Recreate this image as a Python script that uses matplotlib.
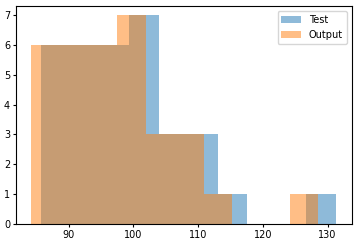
import matplotlib
matplotlib.use("Agg")
from matplotlib import pyplot as plt

# raw samples read back from the histogram bars
test = [85.7, 87, 88, 88.5, 89, 90,
        91, 92, 92.5, 93, 94, 94.5,
        95, 96, 97, 97.5, 98, 99,
        99.5, 100, 100.5, 101, 102, 103, 103.5,
        104.5, 106, 107.5,
        109, 111, 112.5,
        115,
        131.3]
output = [84.2, 85, 86, 87, 87.5, 88,
          89, 90, 90.5, 91, 92, 92.5,
          94, 94.5, 95, 96, 96.5, 97,
          98, 98.5, 99, 100, 100.5, 101, 101.5,
          102.5, 104, 105.5,
          107, 108.5, 110,
          113,
          128.6]
xticks = [90, 100, 110, 120, 130]
yticks = [0, 1, 2, 3, 4, 5, 6, 7]

plt.rcParams['font.size'] = 7
fig = plt.figure(figsize=(3.62, 2.48), dpi=100)
ax = fig.add_axes([0.045, 0.097, 0.926, 0.878])

ax.hist(test, bins=10, alpha=0.5, label="Test")
ax.hist(output, bins=10, alpha=0.5, label="Output")

ax.set_xlim(81.9, 133.7)
ax.set_ylim(0, 7.3)
ax.set_xticks(xticks)
ax.set_yticks(yticks)
ax.tick_params(axis='both', which='major', labelsize=7, length=2.5, pad=2)
ax.legend(loc="upper right", fontsize=7)

fig.savefig("out.png")
